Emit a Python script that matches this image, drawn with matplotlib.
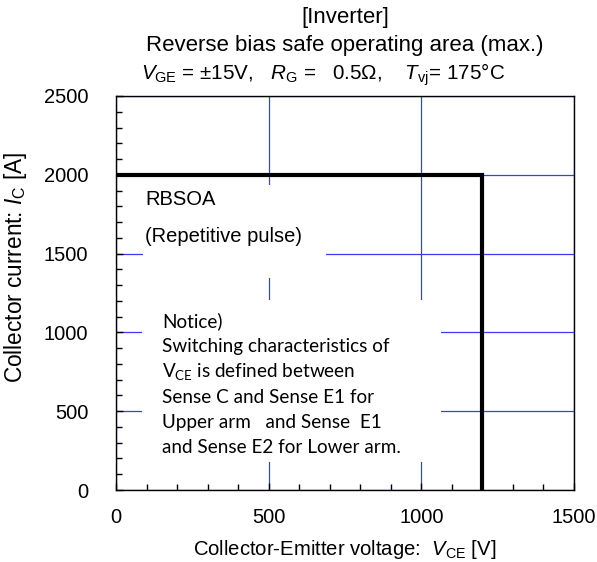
import numpy as np
import matplotlib
matplotlib.use("Agg")
import matplotlib.pyplot as plt
from matplotlib.patches import Rectangle
from matplotlib.ticker import MultipleLocator

plt.rcParams['font.family'] = ['Liberation Sans', 'DejaVu Sans']
plt.rcParams['mathtext.fontset'] = 'custom'
plt.rcParams['mathtext.rm'] = 'Liberation Sans'
plt.rcParams['mathtext.it'] = 'Liberation Sans:italic'
plt.rcParams['mathtext.sf'] = 'Lato'

# RBSOA boundary (V_CE [V], I_C [A])
vce = [0, 1200, 1200]
ic = [2000, 2000, 0]

xticks = [0, 500, 1000, 1500]
yticks = [0, 500, 1000, 1500, 2000, 2500]

notice_lines = ["Notice)",
                "Switching characteristics of",
                r"$\mathsf{V_{CE}}$ is defined between",
                "Sense C and Sense E1 for",
                "Upper arm   and Sense  E1",
                "and Sense E2 for Lower arm."]

fig = plt.figure(figsize=(5.97, 5.62), dpi=100)
ax = fig.add_axes([116/597, 1 - 490/562, 458/597, 394/562])

ax.set_xlim(0, 1500)
ax.set_ylim(0, 2500)
ax.set_xticks(xticks)
ax.set_yticks(yticks)
ax.xaxis.set_minor_locator(MultipleLocator(100))
ax.yaxis.set_minor_locator(MultipleLocator(100))
ax.tick_params(which='both', direction='in', labelsize=14.5, width=1)
ax.tick_params(which='major', length=5)
ax.tick_params(which='minor', length=4)
ax.tick_params(axis='x', pad=13)
ax.tick_params(axis='y', pad=20)
ax.grid(True, which='major', color='#3a3aff', lw=0.9)
ax.set_axisbelow(True)
for s in ax.spines.values():
    s.set_linewidth(1.0)

# white panels behind the annotations
ax.add_patch(Rectangle((88, 1345), 600, 590, facecolor='white',
                       edgecolor='none', zorder=1.5))
ax.add_patch(Rectangle((85, 178), 980, 1028, facecolor='white',
                       edgecolor='none', zorder=1.5))

ax.plot(vce, ic, color='black', lw=3, zorder=3, solid_joinstyle='miter')

ax.text(95, 1808, "RBSOA", fontsize=14.5, va='baseline', zorder=4)
ax.text(95, 1574, "(Repetitive pulse)", fontsize=14.5, va='baseline',
        zorder=4)

y0 = 1034
for i, line in enumerate(notice_lines):
    ax.text(151, y0 - i * 160, line, fontsize=13.6, family='Lato',
            va='baseline', zorder=4)

ax.set_xlabel(r"Collector-Emitter voltage:  $V_{\rm CE}$ [V]", fontsize=14.6,
              labelpad=8)
ax.set_ylabel(r"Collector current: $I_{\rm C}$ [A]", fontsize=16.3)
ax.yaxis.set_label_coords(-87/458, (490 - 267)/394)

fig.text(345/597, 1 - 18/562, "[Inverter]", fontsize=16, ha='center',
         va='center')
fig.text(345/597, 1 - 45/562, "Reverse bias safe operating area (max.)",
         fontsize=16, ha='center', va='center')
fig.text(141/597, 1 - 75/562,
         r"$V_{\rm GE}$ = ±15V,   $R_{\rm G}$ =   0.5Ω,    $T_{\rm vj}$= 175°C",
         fontsize=14.9, ha='left', va='center')

fig.savefig("out.png", dpi=100)
